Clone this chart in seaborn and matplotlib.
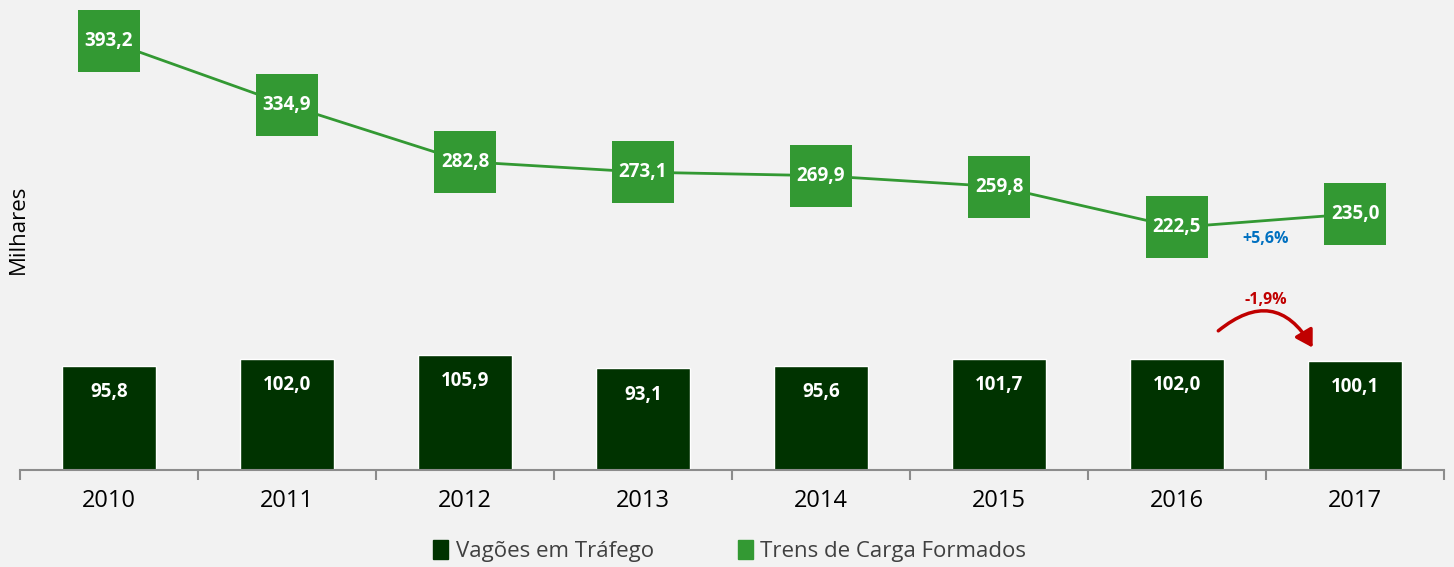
import numpy as np
import pandas as pd
import seaborn as sns
import matplotlib
matplotlib.use("Agg")
import matplotlib.pyplot as plt
from matplotlib.patches import Patch, FancyArrowPatch

years = ["2010", "2011", "2012", "2013", "2014", "2015", "2016", "2017"]
vagoes = [95.8, 102.0, 105.9, 93.1, 95.6, 101.7, 102.0, 100.1]
trens = [393.2, 334.9, 282.8, 273.1, 269.9, 259.8, 222.5, 235.0]
var_trens = "+5,6%"
var_vagoes = "-1,9%"
series_names = ["Vagões em Tráfego", "Trens de Carga Formados"]

BG = "#f2f2f2"
DARK = "#003300"
GREEN = "#339933"

sns.set_theme(style="white")
plt.rcParams["font.family"] = ["Open Sans", "DejaVu Sans"]

fig = plt.figure(figsize=(14.54, 5.67), dpi=100, facecolor=BG)
ax = fig.add_axes([20/1454, 97/567, 1424/1454, 470/567])
ax.set_facecolor(BG)

df = pd.DataFrame({"ano": years, "vagoes": vagoes, "trens": trens})
sns.barplot(data=df, x="ano", y="vagoes", color=DARK, width=0.53,
            saturation=1, ax=ax, zorder=2)
pos = np.arange(len(years))
sns.lineplot(x=pos, y=trens, color=GREEN, linewidth=2.0, ax=ax, zorder=3)
sns.scatterplot(x=pos, y=trens, marker="s", s=44.5**2, color=GREEN,
                edgecolor=GREEN, linewidth=0, ax=ax, zorder=4)

def fmt(v):
    return f"{v:.1f}".replace(".", ",")

for p, v in zip(pos, trens):
    ax.text(p, v, fmt(v), ha="center", va="center", color="white",
            fontsize=13.5, fontweight="bold", zorder=5)
for p, v in zip(pos, vagoes):
    ax.annotate(fmt(v), (p, v), xytext=(0, -19), textcoords="offset points",
                ha="center", va="center", color="white", fontsize=13.5,
                fontweight="bold", zorder=5)

ax.set_xlim(-0.5, len(years) - 0.5)
ax.set_ylim(0, 431)
ax.set_xlabel("")
ax.set_ylabel("")
ax.set_yticks([])
for s in ["left", "right", "top"]:
    ax.spines[s].set_visible(False)
ax.spines["bottom"].set_color("#8c8c8c")
ax.spines["bottom"].set_linewidth(1.5)

ax.set_xticks(np.arange(-0.5, len(years)), [""] * (len(years) + 1))
ax.set_xticks(pos, years, minor=True)
ax.tick_params(axis="x", which="major", length=7, width=1.5, color="#8c8c8c",
               direction="out", bottom=True)
ax.tick_params(axis="x", which="minor", length=0, pad=14, labelsize=17,
               labelcolor="black")

# variation annotations
ax.text(6.5, trens[6] - 11, var_trens, ha="center", va="center",
        color="#0070C0", fontsize=11.5, fontweight="bold")
ax.text(6.5, 156, var_vagoes, ha="center", va="center",
        color="#C00000", fontsize=11.5, fontweight="bold")
arrow = FancyArrowPatch((6.22, 126), (6.77, 110),
                        connectionstyle="arc3,rad=-0.6",
                        arrowstyle="-|>,head_length=10,head_width=6",
                        color="#C00000", linewidth=2.5, zorder=6)
ax.add_patch(arrow)

fig.text(18/1454, 1 - 229/567, "Milhares", rotation=90, ha="center",
         va="center", fontsize=16, color="black")

handles = [Patch(facecolor=DARK, edgecolor=DARK),
           Patch(facecolor=GREEN, edgecolor=GREEN)]
leg = fig.legend(handles, series_names, loc="center",
                 bbox_to_anchor=(0.502, 16/567), ncol=2, frameon=False,
                 fontsize=16, handlelength=0.65, handleheight=0.95,
                 handletextpad=0.35, columnspacing=3.8)
for t in leg.get_texts():
    t.set_color("#404040")

fig.savefig("out.png", dpi=100, facecolor=BG)
